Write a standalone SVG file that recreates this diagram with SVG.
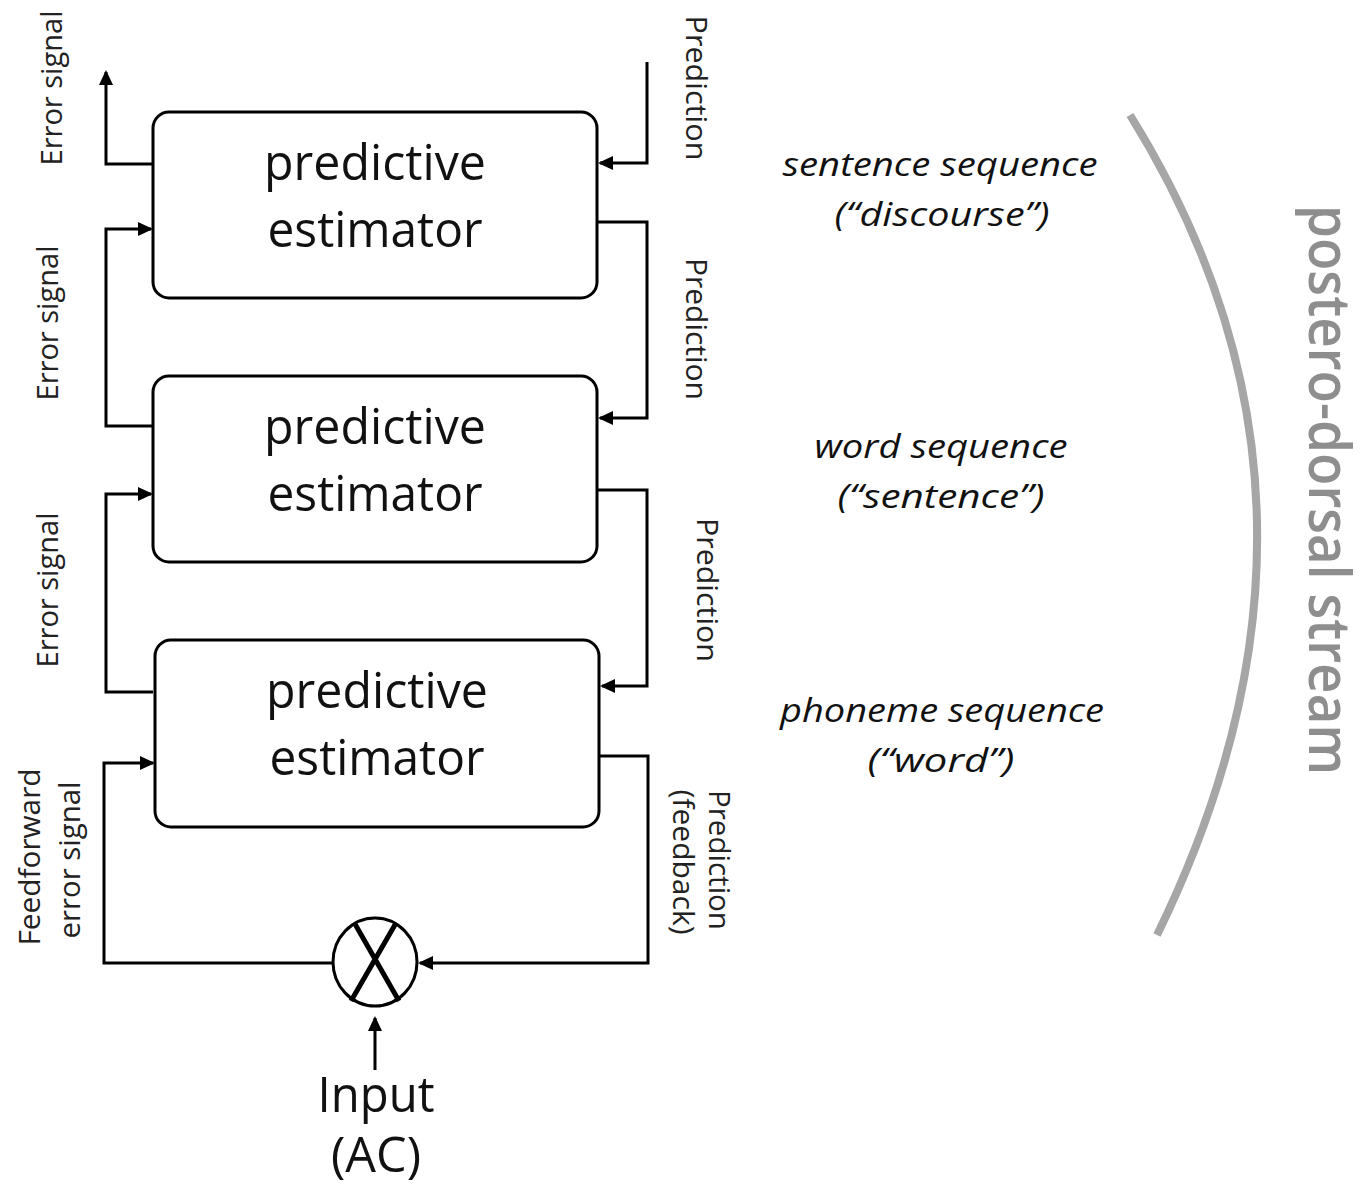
<svg xmlns="http://www.w3.org/2000/svg" width="1368" height="1190" viewBox="0 0 1368 1190">
<style>
.box{fill:#fff;stroke:#000;stroke-width:3}
.ln{fill:none;stroke:#000;stroke-width:3}
.lbl{font-family:"Open Sans","Liberation Sans",sans-serif;font-size:30px;fill:#222;text-anchor:middle}
.big{font-family:"Open Sans","Liberation Sans",sans-serif;font-size:50px;fill:#111;text-anchor:middle}
.it{font-family:"Open Sans","Liberation Sans",sans-serif;font-size:32px;font-style:italic;fill:#111;text-anchor:middle}
.stream{font-family:"Open Sans","Liberation Sans",sans-serif;font-size:58px;font-weight:600;fill:#8e8e8e;text-anchor:middle}
</style>
<defs>
<marker id="ah" markerWidth="16" markerHeight="14" refX="13" refY="7" orient="auto" markerUnits="userSpaceOnUse"><path d="M0,0 L15,7 L0,14 z" fill="#000"/></marker>
</defs>
<rect width="1368" height="1190" fill="#fff"/>
<g id="connectors">
<path class="ln" d="M153,164 H106 V72" marker-end="url(#ah)"/>
<path class="ln" d="M153,426 H106 V229 H151" marker-end="url(#ah)"/>
<path class="ln" d="M153,692 H106 V494 H151" marker-end="url(#ah)"/>
<path class="ln" d="M332,963 H104 V763 H153" marker-end="url(#ah)"/>
<path class="ln" d="M375,1070 V1018" marker-end="url(#ah)"/>
<path class="ln" d="M647,62 V163 H600" marker-end="url(#ah)"/>
<path class="ln" d="M597,222 H647 V418 H600" marker-end="url(#ah)"/>
<path class="ln" d="M597,490 H647 V686 H602" marker-end="url(#ah)"/>
<path class="ln" d="M599,756 H648 V963 H420" marker-end="url(#ah)"/>
</g>
<g id="node-1">
<rect class="box" x="153" y="112" width="444" height="186" rx="16"/>
<text class="big" x="375" y="180" textLength="222" lengthAdjust="spacingAndGlyphs">predictive</text>
<text class="big" x="375" y="247" textLength="215" lengthAdjust="spacingAndGlyphs">estimator</text>
</g>
<g id="node-2">
<rect class="box" x="153" y="376" width="444" height="186" rx="16"/>
<text class="big" x="375" y="444" textLength="222" lengthAdjust="spacingAndGlyphs">predictive</text>
<text class="big" x="375" y="511" textLength="215" lengthAdjust="spacingAndGlyphs">estimator</text>
</g>
<g id="node-3">
<rect class="box" x="155" y="640" width="444" height="187" rx="16"/>
<text class="big" x="377" y="708" textLength="222" lengthAdjust="spacingAndGlyphs">predictive</text>
<text class="big" x="377" y="775" textLength="215" lengthAdjust="spacingAndGlyphs">estimator</text>
</g>
<g id="multiplier">
<ellipse cx="375" cy="962" rx="42" ry="44" fill="#fff" stroke="#000" stroke-width="3"/>
<path d="M355,924 L399,1001 M396,923 L351,1001" stroke="#000" stroke-width="5" fill="none"/>
</g>
<g id="input">
<text class="big" x="376" y="1112" font-size="44" textLength="117" lengthAdjust="spacingAndGlyphs">Input</text>
<text class="big" x="376" y="1172" font-size="44" textLength="90" lengthAdjust="spacingAndGlyphs">(AC)</text>
</g>
<g id="labels-left">
<text class="lbl" transform="translate(62,88) rotate(-90)" textLength="155" lengthAdjust="spacingAndGlyphs">Error signal</text>
<text class="lbl" transform="translate(58,323) rotate(-90)" textLength="155" lengthAdjust="spacingAndGlyphs">Error signal</text>
<text class="lbl" transform="translate(58,590) rotate(-90)" textLength="155" lengthAdjust="spacingAndGlyphs">Error signal</text>
<text class="lbl" transform="translate(40,857) rotate(-90)" textLength="177" lengthAdjust="spacingAndGlyphs">Feedforward</text>
<text class="lbl" transform="translate(80,860) rotate(-90)" textLength="157" lengthAdjust="spacingAndGlyphs">error signal</text>
</g>
<g id="labels-right">
<text class="lbl" transform="translate(686,88) rotate(90)" textLength="145" lengthAdjust="spacingAndGlyphs">Prediction</text>
<text class="lbl" transform="translate(686,329) rotate(90)" textLength="142" lengthAdjust="spacingAndGlyphs">Prediction</text>
<text class="lbl" transform="translate(697,590) rotate(90)" textLength="144" lengthAdjust="spacingAndGlyphs">Prediction</text>
<text class="lbl" transform="translate(709,860) rotate(90)" textLength="140" lengthAdjust="spacingAndGlyphs">Prediction</text>
<text class="lbl" transform="translate(673,862) rotate(90)" textLength="145" lengthAdjust="spacingAndGlyphs">(feedback)</text>
</g>
<g id="levels">
<text class="it" x="940" y="176" textLength="315" lengthAdjust="spacingAndGlyphs">sentence sequence</text>
<text class="it" x="942" y="226" textLength="215" lengthAdjust="spacingAndGlyphs">(“discourse”)</text>
<text class="it" x="941" y="458" textLength="253" lengthAdjust="spacingAndGlyphs">word sequence</text>
<text class="it" x="941" y="508" textLength="207" lengthAdjust="spacingAndGlyphs">(“sentence”)</text>
<text class="it" x="942" y="722" textLength="324" lengthAdjust="spacingAndGlyphs">phoneme sequence</text>
<text class="it" x="941" y="772" textLength="147" lengthAdjust="spacingAndGlyphs">(“word”)</text>
</g>
<g id="stream">
<path d="M1130,115 Q1370,500 1157,935" fill="none" stroke="#a6a6a6" stroke-width="8"/>
<text class="stream" transform="translate(1309,490) rotate(90)" textLength="570" lengthAdjust="spacingAndGlyphs">postero-dorsal stream</text>
</g>
</svg>
